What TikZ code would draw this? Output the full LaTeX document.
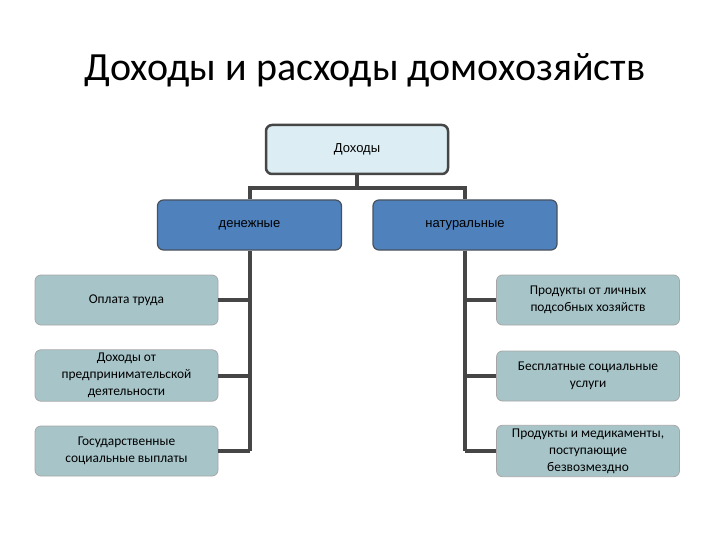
\documentclass[tikz,border=0pt]{standalone}
\usepackage{fontspec}
\setmainfont{Carlito}
\newfontfamily\boxfont{Liberation Sans}
\definecolor{topfill}{HTML}{DCEEF3}
\definecolor{bluefill}{HTML}{4F81BD}
\definecolor{tealfill}{HTML}{A7C5C9}
\definecolor{linec}{HTML}{464646}
\begin{document}
\begin{tikzpicture}[x=1pt,y=-1pt,
  topbox/.style={draw=linec,line width=2.5pt,fill=topfill,rounded corners=6pt,minimum width=182pt,minimum height=49pt,font=\boxfont\fontsize{13}{15}\selectfont},
  bluebox/.style={draw=linec!80!bluefill,line width=1.2pt,fill=bluefill,rounded corners=6pt,minimum width=184pt,minimum height=50pt,font=\boxfont\fontsize{13}{15}\selectfont},
  leaf/.style={draw=gray!70,line width=0.8pt,fill=tealfill,rounded corners=6pt,minimum width=183pt,minimum height=50pt,align=center,font=\fontsize{13.4}{17}\selectfont},
  conn/.style={draw=linec,line width=4pt}]
\useasboundingbox (0,0) rectangle (720,540);
\node (title) at (365,70) {\fontsize{40}{46}\selectfont Доходы и расходы домохозяйств};
\node[topbox] (top) at (357,149.5) {Доходы};
\node[bluebox] (mon) at (249.5,225) {денежные};
\node[bluebox] (nat) at (465,225) {натуральные};
\node[leaf] (l1) at (126.5,300) {Оплата труда};
\node[leaf] (l2) at (126.5,375.5) {Доходы от\\предпринимательской\\деятельности};
\node[leaf] (l3) at (126.5,451) {Государственные\\социальные выплаты};
\node[leaf] (r1) at (588,300) {Продукты от личных\\подсобных хозяйств};
\node[leaf] (r2) at (588,376) {Бесплатные социальные\\услуги};
\node[leaf] (r3) at (588,451) {Продукты и медикаменты,\\поступающие\\безвозмездно};
\coordinate (hub) at (357,188);
\draw[conn] (top.south) -- (hub);
\draw[conn] (mon.north) |- (hub) -| (nat.north);
\coordinate (lb) at (249.5,451);
\coordinate (rb) at (465,451);
\draw[conn] (mon.south) -- (lb);
\draw[conn] (nat.south) -- (rb);
\draw[conn] (l1.east) -- (l1.east -| lb);
\draw[conn] (l2.east) -- (l2.east -| lb);
\draw[conn] (l3.east) -- (lb);
\draw[conn] (r1.west) -- (r1.west -| rb);
\draw[conn] (r2.west) -- (r2.west -| rb);
\draw[conn] (r3.west) -- (rb);
\end{tikzpicture}
\end{document}
